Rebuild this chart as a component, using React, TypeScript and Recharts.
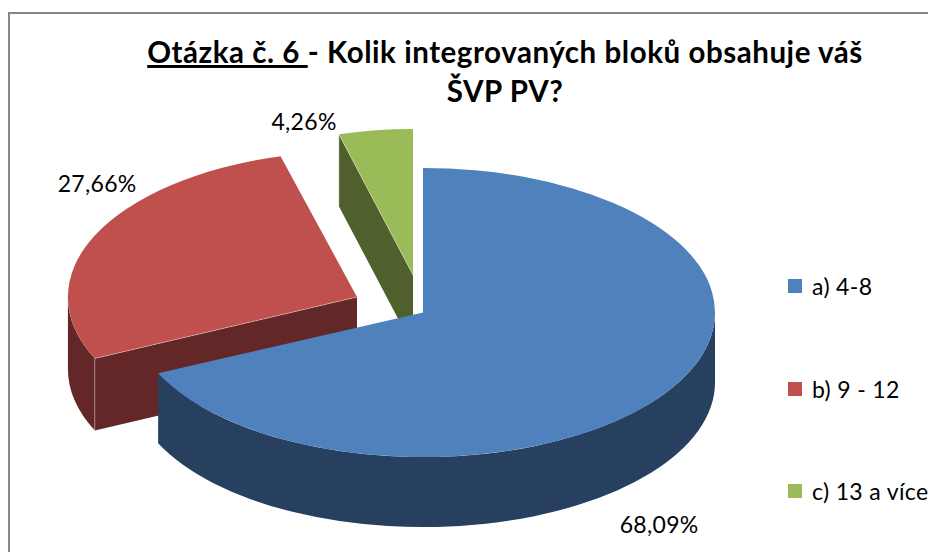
import React from 'react';
import { PieChart, Pie, Legend } from 'recharts';

const categories = ['a) 4-8', 'b) 9 - 12', 'c) 13 a více'];
const shares = [68.09, 27.66, 4.26];
const topColors = ['#4F81BD', '#C0504D', '#9BBB59'];
const wallColors = ['#284060', '#622726', '#4F602D'];
// Slice displacement (explosion) from the pie centre, in px
const explodeX = [32, -34, 22];
const explodeY = [7.5, -8, -30];
// Perspective corrections per slice
const widthScale = [1, 0.99, 0.96];
const tilts = [0.495, 0.5, 0.5];
const depths = [70, 72, 72];
// Label nudge relative to the slice rim
const labelNudgeX = [-10, 5, -70];
const labelNudgeY = [133, -53, -9];

const CX = 391;
const CY = 305;
const RADIUS = 292;
const FONT = 'Lato, "Open Sans", sans-serif';

// drawn back to front: the pie runs counter-clockwise from 12 o'clock
const table = categories
  .map((name, i) => ({ name, value: shares[i], fill: topColors[i], slot: i }))
  .reverse();

const rad = (d: number) => (d * Math.PI) / 180;

function Slice3D(props: any) {
  const { startAngle, endAngle, cx, cy, outerRadius, payload } = props;
  const slot = payload?.slot ?? props.slot;
  const s = Math.min(startAngle, endAngle);
  const e = Math.max(startAngle, endAngle);
  const ax = cx + explodeX[slot];
  const ay = cy + explodeY[slot];
  const rx = outerRadius * widthScale[slot];
  const ry = outerRadius * tilts[slot];
  const depth = depths[slot];
  const pt = (a: number, dz = 0) => [ax + rx * Math.cos(rad(a)), ay - ry * Math.sin(rad(a)) + dz];
  const f = (p: number[]) => `${p[0].toFixed(2)} ${p[1].toFixed(2)}`;
  const large = e - s > 180 ? 1 : 0;
  const top = `M ${ax} ${ay} L ${f(pt(s))} A ${rx} ${ry} 0 ${large} 0 ${f(pt(e))} Z`;

  const wallFrom = Math.max(s, 180);
  const wallTo = Math.min(e, 360);
  const wall =
    wallTo > wallFrom
      ? `M ${f(pt(wallFrom))} A ${rx} ${ry} 0 0 0 ${f(pt(wallTo))} L ${f(pt(wallTo, depth))} A ${rx} ${ry} 0 0 1 ${f(pt(wallFrom, depth))} Z`
      : null;

  const faces: string[] = [];
  const seams: string[] = [];
  const face = (a: number) => {
    const p = pt(a);
    const q = pt(a, depth);
    faces.push(`M ${ax} ${ay} L ${f(p)} L ${f(q)} L ${ax} ${ay + depth} Z`);
    seams.push(`M ${ax} ${ay} L ${f(p)} L ${f(q)}`);
  };
  if (Math.cos(rad(s)) > 0.001) face(s);
  if (Math.cos(rad(e)) < -0.001) face(e);

  const wc = wallColors[slot];
  return (
    <g>
      {faces.map((d, i) => (
        <path key={i} d={d} fill={wc} stroke="none" />
      ))}
      {wall && <path d={wall} fill={wc} stroke="none" />}
      <path d={top} fill={topColors[slot]} stroke="none" />
      {seams.map((d, i) => (
        <path key={i} d={d} fill="none" stroke="#ffffff" strokeOpacity={0.45} strokeWidth={0.8} />
      ))}
    </g>
  );
}

function SliceLabel(props: any) {
  const { cx, cy, outerRadius, midAngle, payload, value } = props;
  const slot = payload?.slot ?? props.slot;
  const x = cx + explodeX[slot] + outerRadius * Math.cos(rad(midAngle)) + labelNudgeX[slot];
  const y = cy + explodeY[slot] - outerRadius * 0.5 * Math.sin(rad(midAngle)) + labelNudgeY[slot];
  return (
    <text x={x} y={y} textAnchor="middle" dominantBaseline="central" fontFamily={FONT} fontSize={23} letterSpacing={0.3} fill="#000">
      {`${Number(value).toFixed(2).replace('.', ',')}%`}
    </text>
  );
}

function LegendBox() {
  return (
    <div style={{ fontFamily: FONT, fontSize: 23, letterSpacing: 0.35, color: '#000', whiteSpace: 'nowrap', lineHeight: '24px' }}>
      {categories.map((c, i) => (
        <div key={c} style={{ height: 102.5, display: 'flex', alignItems: 'flex-start' }}>
          <span style={{ width: 14, height: 14, marginTop: 5, marginRight: 10, background: topColors[i], display: 'inline-block', flex: 'none' }} />
          <span>{c}</span>
        </div>
      ))}
    </div>
  );
}

export default function App() {
  return (
    <div style={{ position: 'absolute', left: 0, top: 0, width: 928, height: 552, overflow: 'hidden', background: '#fff' }}>
      <PieChart width={928} height={552} margin={{ top: 0, right: 0, bottom: 0, left: 0 }}>
        <path d="M 9 552 L 9 13 L 928 13" fill="none" stroke="#868686" strokeWidth={2} />
        <text x={505} y={63} textAnchor="middle" fontFamily={FONT} fontSize={29.5} letterSpacing={0.55} fontWeight={700} fill="#000">
          <tspan textDecoration="underline">Otázka č. 6 </tspan>
          <tspan>- Kolik integrovaných bloků obsahuje váš</tspan>
        </text>
        <text x={505} y={102} textAnchor="middle" fontFamily={FONT} fontSize={29.5} letterSpacing={0.55} fontWeight={700} fill="#000">
          ŠVP PV?
        </text>
        <Pie
          data={table}
          dataKey="value"
          nameKey="name"
          cx={CX}
          cy={CY}
          innerRadius={0}
          outerRadius={RADIUS}
          startAngle={90}
          endAngle={450}
          stroke="none"
          isAnimationActive={false}
          shape={Slice3D}
          label={SliceLabel}
          labelLine={false}
        />
        <Legend
          content={LegendBox}
          layout="vertical"
          align="right"
          verticalAlign="top"
          wrapperStyle={{ left: 788, top: 274, width: 160, right: 'auto' }}
        />
      </PieChart>
    </div>
  );
}
